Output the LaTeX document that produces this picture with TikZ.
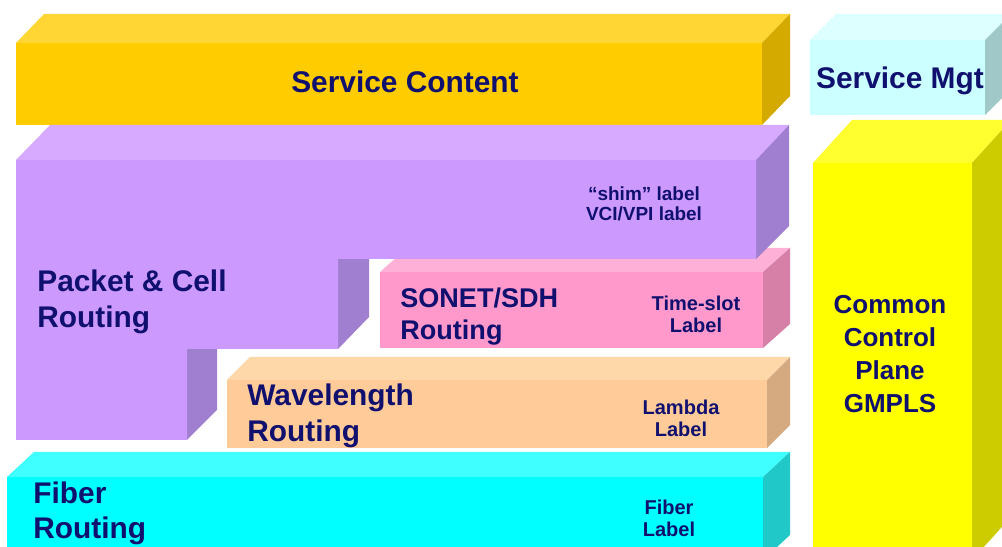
\documentclass[tikz,border=0pt]{standalone}
\usepackage{fontspec}
\setmainfont{Liberation Sans}
\usepackage{xcolor}
\usepackage{tikz}

\definecolor{navy}{HTML}{10106E}
\definecolor{contenttop}{HTML}{FFD633}
\definecolor{contentfront}{HTML}{FFCC00}
\definecolor{contentside}{HTML}{D4AA00}
\definecolor{mgttop}{HTML}{DDFFFF}
\definecolor{mgtfront}{HTML}{CCFFFF}
\definecolor{mgtside}{HTML}{A0C8C8}
\definecolor{packettop}{HTML}{D8AAFF}
\definecolor{packetfront}{HTML}{CC99FF}
\definecolor{packetside}{HTML}{A07FD0}
\definecolor{sonettop}{HTML}{FFB0D6}
\definecolor{sonetfront}{HTML}{FF99CC}
\definecolor{sonetside}{HTML}{D680A8}
\definecolor{wavetop}{HTML}{FFD8AA}
\definecolor{wavefront}{HTML}{FFCC99}
\definecolor{waveside}{HTML}{D6AA80}
\definecolor{fibertop}{HTML}{40FFFF}
\definecolor{fiberfront}{HTML}{00FFFF}
\definecolor{fiberside}{HTML}{20C8C8}
\definecolor{gmplstop}{HTML}{FFFF30}
\definecolor{gmplsfront}{HTML}{FFFF00}
\definecolor{gmplsside}{HTML}{CCCC00}

% slab: colour, x1, y1, x2, y2, depth x, depth y
\newcommand{\slab}[7]{%
  \fill[#1top] (#2,#3) -- (#2+#6,#3-#7) -- (#4+#6,#3-#7) -- (#4,#3) -- cycle;
  \fill[#1side] (#4,#3) -- (#4+#6,#3-#7) -- (#4+#6,#5-#7) -- (#4,#5) -- cycle;
  \fill[#1front] (#2,#3) rectangle (#4,#5);
}

\begin{document}
\begin{tikzpicture}[
  x=0.02cm, y=-0.02cm,
  txt/.style={text=navy, inner sep=0pt},
  title/.style={txt, font=\fontsize{17}{21}\selectfont\bfseries, align=left, anchor=base west},
  head/.style={txt, font=\fontsize{17}{21}\selectfont\bfseries, anchor=base},
  tag/.style={txt, font=\fontsize{11.4}{13}\selectfont\bfseries, align=center, anchor=base}
]
  \useasboundingbox (0,0) rectangle (1002,547);
  \clip (0,0) rectangle (1002,547);

  % slabs, back to front
  \slab{content}{16}{43}{762}{125}{28}{29}
  \slab{mgt}{810}{40}{985}{115}{26}{26}
  \slab{gmpls}{813}{163}{972}{560}{39}{43}
  \slab{sonet}{380}{272}{763}{348}{27}{24}
  \slab{wave}{227}{380}{767}{448}{23}{23}
  \slab{fiber}{7}{477}{763}{560}{27}{25}

  % packet & cell block with its steps
  \fill[packettop] (16,160) -- (50,125) -- (789,125) -- (756,160) -- cycle;
  \fill[packetside] (756,160) -- (789,125) -- (789,226) -- (756,259) -- cycle;
  \fill[packetside] (338,259) -- (369,259) -- (369,317) -- (338,349) -- cycle;
  \fill[packetside] (187,349) -- (217,349) -- (217,410) -- (187,440) -- cycle;
  \fill[packetfront] (16,160) -- (756,160) -- (756,259) -- (338,259)
    -- (338,349) -- (187,349) -- (187,440) -- (16,440) -- cycle;

  % labels (base = last line)
  \node[head] (content) at (405,93) {Service Content};
  \node[head] (mgt) at (900,89) {Service Mgt};
  \node[tag, font=\fontsize{10.8}{11.5}\selectfont\bfseries] (shim) at (644,221) {``shim'' label\\VCI/VPI label};
  \node[title] (packet) at (37,328) {Packet \& Cell\\Routing};
  \node[title, font=\fontsize{15.4}{18.4}\selectfont\bfseries] (sonet) at (400,340) {SONET/SDH\\Routing};
  \node[tag] (timeslot) at (696,333) {Time-slot\\Label};
  \node[title] (wave) at (247,442) {Wavelength\\Routing};
  \node[tag] (lambda) at (681,437) {Lambda\\Label};
  \node[title, font=\fontsize{17}{20}\selectfont\bfseries] (fiber) at (33,539) {Fiber\\Routing};
  \node[tag] (fiberlbl) at (669,537) {Fiber\\Label};
  \node[head, align=center, font=\fontsize{14.8}{18.8}\selectfont\bfseries] (gmpls) at (890,413) {Common\\Control\\Plane\\GMPLS};
\end{tikzpicture}
\end{document}
